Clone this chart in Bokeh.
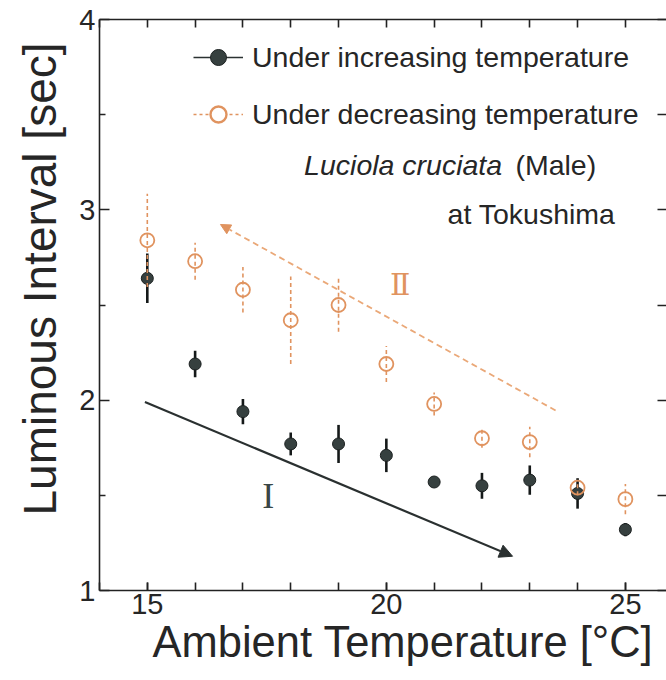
from bokeh.plotting import figure
from bokeh.models import (Range1d, FixedTicker, LinearAxis, ColumnDataSource, Arrow,
                          NormalHead, Label, Legend, LegendItem, Title)
from bokeh.embed import file_html
from bokeh.resources import INLINE

# ---- data ----
temps = [15, 16, 17, 18, 19, 20, 21, 22, 23, 24, 25]
inc_mean = [2.64, 2.19, 1.94, 1.77, 1.77, 1.71, 1.57, 1.55, 1.58, 1.51, 1.32]
inc_err = [0.13, 0.07, 0.066, 0.06, 0.10, 0.088, 0.02, 0.068, 0.077, 0.08, 0.035]
dec_mean = [2.84, 2.73, 2.58, 2.42, 2.50, 2.19, 1.98, 1.80, 1.78, 1.54, 1.48]
dec_err = [0.245, 0.097, 0.12, 0.23, 0.14, 0.095, 0.06, 0.05, 0.08, 0.04, 0.08]

x_major = [15, 20, 25]
x_minor = list(range(14, 27))
y_major = [1, 2, 3, 4]
y_minor = [1.5, 2.5, 3.5]
y_all = [1, 1.5, 2, 2.5, 3, 3.5, 4]

legend_labels = ["Under increasing temperature", "Under decreasing temperature"]
x_title = "Ambient Temperature [°C]"
y_title = "Luminous Interval [sec]"
species = "Luciola cruciata"
sex = "(Male)"
place = "at Tokushima"

# trend arrows (start x, start y, end x, end y)
arrow_I = [14.95, 1.99, 22.64, 1.18]
arrow_II = [23.54, 1.946, 16.53, 2.923]
label_I_pos = [17.53, 1.497]
label_II_pos = [20.29, 2.61]

DARK_FILL = "#36403f"
DARK_LINE = "#1c2121"
ORANGE = "#e0935f"
ORANGE_LIGHT = "#eaa878"
TEXT = "#262626"
AXIS = "#222222"
FONT = "Liberation Sans"

inc_src = ColumnDataSource(dict(
    x=temps, y=inc_mean,
    lo=[m - e for m, e in zip(inc_mean, inc_err)],
    hi=[m + e for m, e in zip(inc_mean, inc_err)]))
dec_src = ColumnDataSource(dict(
    x=temps, y=dec_mean,
    lo=[m - e for m, e in zip(dec_mean, dec_err)],
    hi=[m + e for m, e in zip(dec_mean, dec_err)]))

p = figure(width=666, height=680, output_backend="svg", toolbar_location=None,
           x_range=Range1d(14, 25.86), y_range=Range1d(1, 4),
           min_border_left=99, min_border_right=0, min_border_top=19,
           min_border_bottom=90)
p.outline_line_color = None
p.grid.visible = False
p.background_fill_color = "white"

xa = p.xaxis[0]
xa.ticker = FixedTicker(ticks=x_major, minor_ticks=x_minor)
ya = p.yaxis[0]
ya.ticker = FixedTicker(ticks=y_major, minor_ticks=y_minor)

for ax in (xa, ya):
    ax.axis_line_color = AXIS
    ax.axis_line_width = 1.6
    ax.major_tick_line_color = AXIS
    ax.minor_tick_line_color = AXIS
    ax.major_tick_line_width = 1.6
    ax.minor_tick_line_width = 1.6
    ax.major_tick_out = 0
    ax.minor_tick_out = 0
    ax.major_label_text_font = FONT
    ax.major_label_text_font_size = "29px"
    ax.major_label_text_color = TEXT

xa.major_tick_in = 8
xa.minor_tick_in = 8
xa.major_label_standoff = 3
ya.major_tick_in = 10
ya.minor_tick_in = 6
ya.major_label_standoff = 4

# top axis (ticks only)
top = LinearAxis(ticker=FixedTicker(ticks=[], minor_ticks=x_minor),
                 axis_line_color=AXIS, axis_line_width=1.6,
                 major_tick_out=0, minor_tick_in=8, minor_tick_out=0,
                 minor_tick_line_color=AXIS, minor_tick_line_width=1.6,
                 major_label_standoff=0)
p.add_layout(top, "above")

# right axis (ticks only, spine outside the picture)
right = LinearAxis(ticker=FixedTicker(ticks=[], minor_ticks=y_all),
                   axis_line_color=None,
                   major_tick_out=0, minor_tick_in=9, minor_tick_out=0,
                   minor_tick_line_color=AXIS, minor_tick_line_width=1.6,
                   major_label_standoff=0)
p.add_layout(right, "right")

# axis titles (as side titles so they can be shifted along the axis)
p.add_layout(Title(text=x_title, align="left", offset=53, standoff=-2,
                   text_font=FONT, text_font_size="43.5px", text_font_style="normal",
                   text_color=TEXT), "below")
p.add_layout(Title(text=y_title, align="left", offset=75, standoff=22,
                   text_font=FONT, text_font_size="46px", text_font_style="normal",
                   text_color=TEXT), "left")

# increasing temperature series
p.segment(x0="x", y0="lo", x1="x", y1="hi", source=inc_src,
          line_color="#151919", line_width=2.6)
p.scatter(x="x", y="y", source=inc_src, size=12, marker="circle",
          fill_color=DARK_FILL, line_color=DARK_LINE, line_width=1)

# decreasing temperature series
p.segment(x0="x", y0="lo", x1="x", y1="hi", source=dec_src,
          line_color=ORANGE, line_width=1.6, line_dash="4 3")
p.scatter(x="x", y="y", source=dec_src, size=14, marker="circle",
          fill_color=None, line_color=ORANGE, line_width=1.8)

# trend arrows
p.add_layout(Arrow(x_start=arrow_I[0], y_start=arrow_I[1], x_end=arrow_I[2], y_end=arrow_I[3],
                   line_color="#2a3030", line_width=2.2,
                   end=NormalHead(size=13, fill_color="#2a3030", line_color="#2a3030")))
p.add_layout(Arrow(x_start=arrow_II[0], y_start=arrow_II[1], x_end=arrow_II[2], y_end=arrow_II[3],
                   line_color=ORANGE_LIGHT, line_width=1.8, line_dash="6 4",
                   end=NormalHead(size=10, fill_color=ORANGE, line_color=ORANGE, line_width=1)))
p.add_layout(Label(x=label_I_pos[0], y=label_I_pos[1], text="I", text_font="Liberation Serif",
                   text_font_size="36px", text_color="#3a4646", text_align="center",
                   text_baseline="middle"))
p.add_layout(Label(x=label_II_pos[0], y=label_II_pos[1], text="Ⅱ", text_font="DejaVu Serif",
                   text_font_size="30px", text_color=ORANGE, text_align="center",
                   text_baseline="middle"))

# legend (legend-only renderers hold a single NaN point so nothing shows in the plot)
nan = [float("nan")]
l1 = p.line(x=nan, y=nan, line_color="#2b3232", line_width=1.6)
s1 = p.scatter(x=nan, y=nan, size=10, marker="circle", fill_color=DARK_FILL, line_color=DARK_LINE)
l2 = p.line(x=nan, y=nan, line_color=ORANGE, line_width=1.6, line_dash="3 3")
s2 = p.scatter(x=nan, y=nan, size=11, marker="circle", fill_color="white", line_color=ORANGE,
               line_width=2.4)
legend = Legend(items=[LegendItem(label=legend_labels[0], renderers=[l1, s1]),
                       LegendItem(label=legend_labels[1], renderers=[l2, s2])],
                location=(94, 456), margin=0, padding=0, spacing=17,
                glyph_width=50, glyph_height=40, label_height=40, label_standoff=9,
                label_text_font=FONT, label_text_font_size="28.5px", label_text_color=TEXT,
                border_line_color=None, background_fill_alpha=0)
p.add_layout(legend)

# species / place texts
p.add_layout(Label(x=18.28, y=3.233, text=species, text_font=FONT, text_font_style="italic",
                   text_font_size="28.5px", text_color=TEXT, text_baseline="middle"))
p.add_layout(Label(x=22.7, y=3.233, text=sex, text_font=FONT,
                   text_font_size="28.5px", text_color=TEXT, text_baseline="middle"))
p.add_layout(Label(x=21.28, y=2.98, text=place, text_font=FONT,
                   text_font_size="28.5px", text_color=TEXT, text_baseline="middle"))

open("out.html", "w").write(file_html(p, INLINE))
